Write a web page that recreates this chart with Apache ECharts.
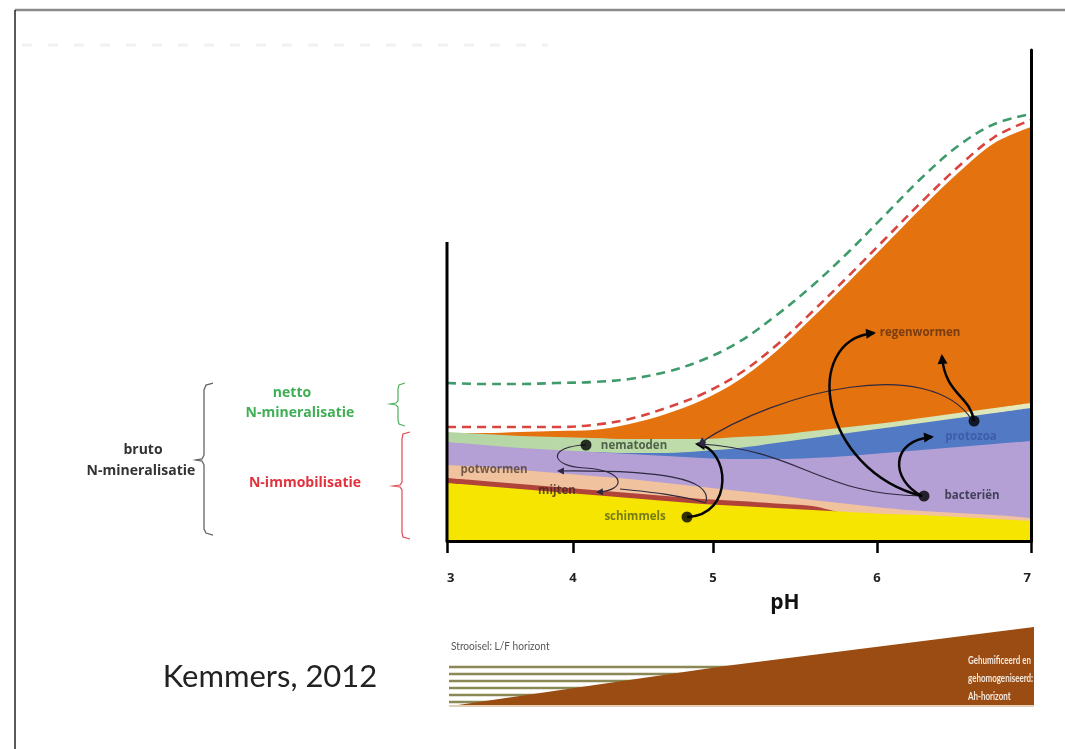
<!DOCTYPE html>
<html>
<head>
<meta charset="utf-8">
<script src="https://cdn.jsdelivr.net/npm/echarts@6/dist/echarts.min.js"></script>
<style>html,body{margin:0;padding:0;background:#fff}#c{width:1065px;height:749px}</style>
</head>
<body>
<div id="c"></div>
<script>
// ---- data (x = pH position, y = relative amount, arbitrary units) ----
const phGrid    = [3.0,3.25,3.5,3.75,4.0,4.25,4.5,4.75,5.0,5.25,5.5,5.75,6.0,6.25,6.5,6.75,7.0];
const schimmelsTop  = [58,55,52,49,46,43,40,37,35,33,31,29,27,26,24,22,20];          // yellow
const mijtenTop     = [63,60,57,54,51,48,45,42,40,37.5,35,27,25,24,22,20,18];        // red band
const potwormenTop  = [76,74,71,68,65,62,58,54,50,46,41,37,33,30,28,26,23];          // peach
const bacterienTop  = [99,96,93,91,89,87,85,83,82,82,83,85,88,91,94,97,100];         // purple
const protozoaTop   = [98,95,92,90,89,88,88,90,93,98,103,108,113,118,123,128,133];   // blue
const nematodenTop  = [109,107,105,104,103,102,102,102,104,106,110,114,118,123,128,133,138]; // green
const regenwormTop  = [108,108,109,110,111,117,127,141,161,189,223,259,296,333,368,398,414]; // orange
const immobLine     = [114,114,114,114,116,122,133,147,167,195,229,265,302,339,374,404,421]; // red dashed
const nettoLine     = [158,157,157,158,159,162,169,181,199,225,255,289,326,363,395,417,427]; // green dashed
const leftAxisTop   = 299;
const yMax          = 491;

const tickAt     = [3, 3.863, 4.822, 5.945, 7];
const tickLabels = ['3','4','5','6','7'];

// food-web nodes
const nodeNames = ['nematoden','schimmels','bacteriën','protozoa'];
const nodeX     = [3.952, 4.644, 6.267, 6.610];
const nodeY     = [96, 24, 45, 120];

// labels of organisms
const labelNames  = ['nematoden','schimmels','bacteriën','protozoa','potwormen','mijten','regenwormen'];
const labelX      = [4.281, 4.288, 6.596, 6.589, 3.322, 3.753, 6.240];
const labelY      = [95, 24, 45, 104, 71, 50, 208];
const labelColors = ['#34432f','#56621a','#262838','#3a55a0','#54402f','#43251d','#5e3010'];

// arrows: start, control1, control2, end (pH,y), line width, arrowhead
const arrows = [
  [3.952,96, 3.692,95, 3.692,75, 3.945,73, 1.2, 0],
  [3.945,73, 4.219,71, 4.240,51, 4.034,49, 1.2, 1],
  [4.774,39, 4.815,63, 4.459,71, 3.767,70, 1.2, 1],
  [4.774,38, 4.596,46, 4.390,49, 4.185,52, 1.2, 0],
  [4.644,24, 4.973,26, 4.938,93, 4.712,97, 2.5, 1],
  [6.253,45, 5.555,46, 5.418,91, 4.733,97, 1.2, 1],
  [6.596,121, 6.308,186, 5.281,151, 4.733,98, 1.2, 1],
  [6.253,45, 5.555,71, 5.418,201, 5.925,208, 2.5, 1],
  [6.253,45, 6.034,61, 6.034,101, 6.322,104, 2.5, 1],
  [6.610,120, 6.582,146, 6.411,146, 6.390,185, 2.5, 1]
];

const chart = echarts.init(document.getElementById('c'), null, {renderer:'canvas'});
const FONT = 'Lato, "Open Sans", sans-serif';
const BOLD = '"Open Sans", Lato, sans-serif';

function area(name, top, color) {
  return {
    name, type:'line', smooth:0.35, symbol:'none', silent:true,
    data: phGrid.map((x,i)=>[x, top[i]]),
    lineStyle:{width:0}, areaStyle:{color, opacity:1}
  };
}
function dashed(name, vals, color) {
  return {
    name, type:'line', smooth:0.35, symbol:'none', silent:true, z:4,
    data: phGrid.map((x,i)=>[x, vals[i]]),
    lineStyle:{color, width:2.6, type:[9,6]}
  };
}

function renderArrow(params, api) {
  const p0 = api.coord([api.value(0), api.value(1)]);
  const c1 = api.coord([api.value(2), api.value(3)]);
  const c2 = api.coord([api.value(4), api.value(5)]);
  const p3 = api.coord([api.value(6), api.value(7)]);
  const w = api.value(8), head = api.value(9);
  const color = w > 2 ? '#050505' : '#2e2840';
  const children = [{
    type:'bezierCurve',
    shape:{x1:p0[0],y1:p0[1],cpx1:c1[0],cpy1:c1[1],cpx2:c2[0],cpy2:c2[1],x2:p3[0],y2:p3[1]},
    style:{stroke:color, lineWidth:w, fill:null}
  }];
  if (head) {
    const dx = p3[0]-c2[0], dy = p3[1]-c2[1];
    const L = Math.hypot(dx,dy) || 1, ux = dx/L, uy = dy/L;
    const len = w > 2 ? 10 : 7, hw = w > 2 ? 5 : 3.5;
    const tx = p3[0]+ux*2, ty = p3[1]+uy*2;
    const bx = tx-ux*len, by = ty-uy*len;
    children.push({type:'polygon', shape:{points:[[tx,ty],[bx-uy*hw, by+ux*hw],[bx+uy*hw, by-ux*hw]]}, style:{fill:color}});
  }
  return {type:'group', children};
}

const greenGrad = {type:'linear', x:0, y:0, x2:1, y2:0, colorStops:[
  {offset:0, color:'#b4d6a4'}, {offset:0.6, color:'#c4deae'}, {offset:1, color:'#e6eabb'}]};

function txt(x, y, text, fill, font, align, extra) {
  return Object.assign({type:'text', x, y, silent:true,
    style:{text, fill, font, textAlign:align||'center', textVerticalAlign:'middle'}}, extra||{});
}

const option = {
  animation:false,
  backgroundColor:'#ffffff',
  grid:{left:447, right:34, top:50, bottom:208, containLabel:false},
  xAxis:{
    type:'value', min:3, max:7, z:6,
    splitLine:{show:false},
    axisLine:{show:true, onZero:false, lineStyle:{color:'#000', width:3}},
    axisTick:{show:true, customValues:tickAt, length:12, lineStyle:{color:'#000', width:2.5}},
    axisLabel:{show:true, customValues:tickAt, margin:31, color:'#222', fontSize:13, fontWeight:'bold', fontFamily:BOLD,
      alignMinLabel:'left', alignMaxLabel:'right',
      formatter:(v)=>{ const i = tickAt.findIndex(t=>Math.abs(t-v)<1e-6); return i>=0 ? tickLabels[i] : ''; }}
  },
  yAxis:{
    type:'value', min:0, max:yMax, position:'right', z:6,
    splitLine:{show:false}, axisTick:{show:false}, axisLabel:{show:false},
    axisLine:{show:true, lineStyle:{color:'#000', width:3}}
  },
  series:[
    area('regenwormen', regenwormTop, '#e3720f'),
    area('nematoden', nematodenTop, greenGrad),
    area('protozoa', protozoaTop, '#5279c4'),
    area('bacteriën', bacterienTop, '#b4a0d5'),
    area('potwormen', potwormenTop, '#f0c29d'),
    area('mijten', mijtenTop, '#b0443a'),
    area('schimmels', schimmelsTop, '#f6e500'),
    dashed('N-immobilisatie', immobLine, '#d9443f'),
    dashed('netto', nettoLine, '#3d9b6c'),
    {type:'line', symbol:'none', silent:true, clip:false, z:6,
     data:[[3,0],[3,leftAxisTop]], lineStyle:{color:'#000', width:3}},
    {type:'custom', coordinateSystem:'cartesian2d', renderItem:renderArrow, z:7, silent:true, clip:false,
     encode:{x:[0,2,4,6], y:[1,3,5,7]}, data:arrows},
    {type:'scatter', symbol:'circle', symbolSize:11, z:8, silent:true,
     itemStyle:{color:'#000'}, data:nodeX.map((x,i)=>({name:nodeNames[i], value:[x,nodeY[i]]}))},
    {type:'scatter', symbolSize:0, z:9, silent:true,
     label:{show:true, position:'inside', formatter:'{b}', fontSize:11.5, fontWeight:'bold', fontFamily:BOLD},
     data:labelNames.map((n,i)=>({name:n, value:[labelX[i],labelY[i]], label:{color:labelColors[i]}}))}
  ],
  graphic:[
    {type:'line', shape:{x1:15,y1:10,x2:1065,y2:10}, style:{stroke:'#8a8a8a', lineWidth:2.5}, silent:true},
    {type:'line', shape:{x1:15,y1:10,x2:15,y2:749}, style:{stroke:'#222', lineWidth:1.5}, silent:true},
    {type:'line', shape:{x1:22,y1:45,x2:548,y2:45}, style:{stroke:'#f2f2f2', lineWidth:3, lineDash:[10,16]}, silent:true},
    // braces
    {type:'polyline', silent:true, shape:{points:[[213,383],[206,385],[204,390],[204,455],[202,459],[196,460],[202,461],[204,465],[204,529],[206,533],[213,535]]},
     style:{stroke:'#666', lineWidth:1.3, fill:null}},
    {type:'polyline', silent:true, shape:{points:[[405,383],[399,385],[398,389],[398,401],[396,403],[390,404],[396,405],[398,407],[398,420],[399,424],[405,426]]},
     style:{stroke:'#4fae5e', lineWidth:1.2, fill:null}},
    {type:'polyline', silent:true, shape:{points:[[410,432],[403,434],[402,439],[402,482],[400,485],[393,486],[400,487],[402,490],[402,533],[403,537],[410,539]]},
     style:{stroke:'#e04a55', lineWidth:1.2, fill:null}},
    // left labels
    txt(143, 450, 'bruto', '#333', 'bold 14px '+BOLD),
    txt(141, 471, 'N-mineralisatie', '#333', 'bold 14px '+BOLD),
    txt(292, 393, 'netto', '#3fae55', 'bold 14px '+BOLD),
    txt(300, 413, 'N-mineralisatie', '#3fae55', 'bold 14px '+BOLD),
    txt(305, 483, 'N-immobilisatie', '#e2323d', 'bold 14px '+BOLD),
    txt(785, 603, 'pH', '#111', 'bold 21px '+BOLD),
    txt(270, 677, 'Kemmers, 2012', '#222', '31px '+FONT),
    // soil horizon sketch
    ...[667,674,681,688,695,702].map(y=>({type:'line', silent:true, shape:{x1:449,y1:y,x2:730,y2:y}, style:{stroke:'#8a8854', lineWidth:2.4}})),
    {type:'polygon', silent:true, shape:{points:[[458,705],[725,666],[1034,627],[1034,705]]}, style:{fill:'#9a4c12'}},
    {type:'line', silent:true, shape:{x1:449,y1:706,x2:1034,y2:706}, style:{stroke:'#c8a070', lineWidth:1}},
    txt(451, 646, 'Strooisel: L/F horizont', '#555', '11px '+FONT, 'left', {scaleX:0.92}),
    txt(968, 661, 'Gehumificeerd en', '#f4e8dc', 'bold 10.5px '+FONT, 'left', {scaleX:0.76}),
    txt(968, 679, 'gehomogeniseerd:', '#f4e8dc', 'bold 10.5px '+FONT, 'left', {scaleX:0.76}),
    txt(968, 697, 'Ah-horizont', '#f4e8dc', 'bold 10.5px '+FONT, 'left', {scaleX:0.76})
  ]
};
chart.setOption(option);
</script>
</body>
</html>
